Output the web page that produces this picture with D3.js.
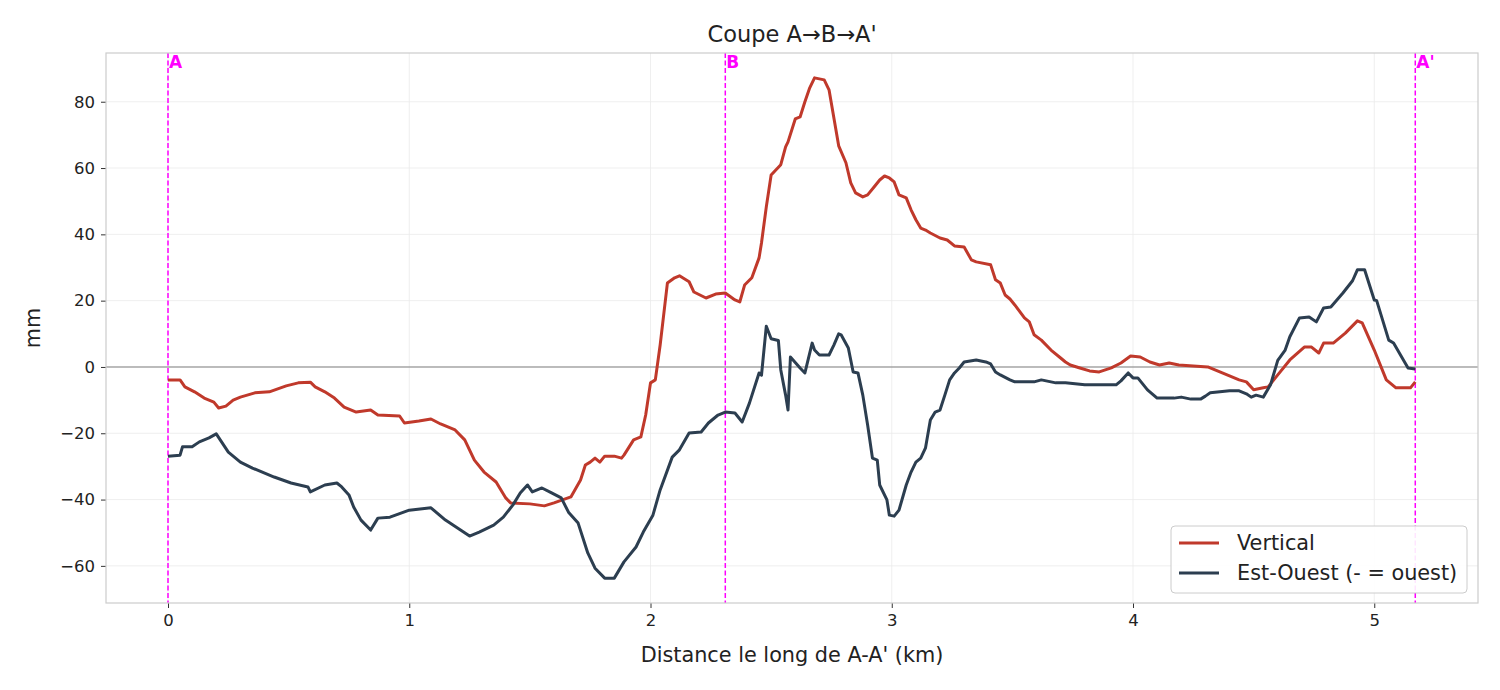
<!DOCTYPE html>
<html>
<head>
<meta charset="utf-8">
<script src="https://cdn.jsdelivr.net/npm/d3@7"></script>
<style>
  body { margin: 0; background: #fff; }
  svg { display: block; font-family: "DejaVu Sans", sans-serif; }
</style>
</head>
<body>
<svg id="chart" width="1500" height="690"></svg>
<script>
// distance (km) / value (mm)
const verticalKm = [0,0.05,0.07,0.11,0.15,0.19,0.21,0.24,0.27,0.30,0.36,0.42,0.49,0.54,0.59,0.61,0.65,0.69,0.73,0.78,0.84,0.87,0.96,0.98,1.04,1.09,1.13,1.19,1.23,1.27,1.31,1.36,1.40,1.42,1.50,1.56,1.60,1.67,1.71,1.73,1.75,1.77,1.79,1.81,1.85,1.88,1.89,1.93,1.96,1.98,2.00,2.02,2.04,2.07,2.10,2.12,2.16,2.18,2.23,2.27,2.31,2.35,2.37,2.39,2.42,2.45,2.46,2.48,2.50,2.54,2.56,2.57,2.60,2.62,2.64,2.66,2.68,2.72,2.74,2.78,2.81,2.83,2.85,2.88,2.90,2.93,2.95,2.97,2.99,3.01,3.03,3.06,3.08,3.10,3.12,3.14,3.16,3.20,3.23,3.26,3.30,3.33,3.35,3.41,3.43,3.45,3.47,3.49,3.51,3.55,3.57,3.59,3.62,3.66,3.70,3.72,3.74,3.78,3.82,3.86,3.91,3.95,3.99,4.03,4.07,4.11,4.15,4.19,4.31,4.37,4.44,4.47,4.50,4.54,4.56,4.60,4.65,4.71,4.74,4.77,4.79,4.83,4.88,4.93,4.95,5.00,5.05,5.09,5.15,5.17];
const verticalMm = [-3.9,-3.9,-6.0,-7.5,-9.4,-10.6,-12.4,-11.8,-10.0,-9.1,-7.8,-7.5,-5.7,-4.8,-4.6,-6.0,-7.5,-9.4,-12.1,-13.6,-13.0,-14.5,-14.8,-16.9,-16.3,-15.7,-17.2,-19.0,-22.0,-28.1,-31.7,-34.7,-39.5,-41.0,-41.3,-41.9,-41.0,-39.2,-34.1,-29.6,-28.7,-27.5,-28.7,-26.9,-26.9,-27.5,-26.6,-22.0,-21.1,-14.5,-4.8,-3.9,6.6,25.3,26.9,27.5,25.7,22.6,20.8,22.0,22.3,20.2,19.6,24.7,26.9,32.9,37.4,48.3,57.9,61.0,66.4,67.9,74.8,75.4,80.0,84.2,87.2,86.6,83.6,66.7,61.6,55.5,52.5,51.3,51.9,54.6,56.4,57.6,57.0,55.8,51.9,51.0,47.4,44.4,41.9,41.3,40.4,38.9,38.3,36.5,36.2,32.3,31.7,30.8,26.3,25.3,21.7,20.5,18.7,14.8,13.6,9.7,8.1,5.1,2.7,1.5,0.6,-0.3,-1.2,-1.5,-0.3,1.2,3.3,3.0,1.5,0.6,1.2,0.6,0,-1.8,-3.9,-4.5,-6.9,-6.3,-6.0,-2.4,2.1,6.0,6.0,4.2,7.2,7.2,10.2,13.9,13.3,5.1,-3.9,-6.3,-6.3,-4.5];

const eastWestKm = [0,0.05,0.06,0.10,0.13,0.17,0.20,0.25,0.30,0.35,0.44,0.51,0.58,0.59,0.65,0.70,0.72,0.75,0.77,0.80,0.84,0.87,0.92,1.00,1.09,1.15,1.20,1.25,1.29,1.35,1.39,1.43,1.46,1.49,1.51,1.55,1.59,1.63,1.66,1.70,1.74,1.77,1.81,1.85,1.89,1.94,1.97,2.01,2.04,2.09,2.12,2.16,2.21,2.24,2.28,2.31,2.35,2.38,2.41,2.45,2.46,2.48,2.50,2.53,2.54,2.56,2.57,2.58,2.62,2.64,2.67,2.68,2.70,2.74,2.76,2.78,2.79,2.82,2.84,2.86,2.88,2.90,2.92,2.94,2.95,2.98,2.99,3.01,3.03,3.06,3.08,3.10,3.12,3.14,3.16,3.18,3.20,3.22,3.24,3.26,3.28,3.30,3.35,3.39,3.41,3.43,3.45,3.49,3.51,3.59,3.62,3.68,3.72,3.80,3.93,3.95,3.98,4.00,4.02,4.04,4.06,4.10,4.17,4.20,4.24,4.28,4.30,4.32,4.40,4.44,4.47,4.49,4.51,4.54,4.57,4.60,4.63,4.65,4.69,4.73,4.76,4.79,4.82,4.87,4.91,4.93,4.96,5.00,5.01,5.06,5.08,5.14,5.17];
const eastWestMm = [-26.9,-26.6,-24.1,-24.1,-22.6,-21.4,-20.2,-25.7,-28.7,-30.5,-33.2,-35.0,-36.2,-37.7,-35.6,-35.0,-36.2,-38.6,-42.3,-46.2,-49.2,-45.6,-45.3,-43.2,-42.5,-46.2,-48.6,-51.0,-49.8,-47.7,-45.3,-41.6,-38.0,-35.6,-37.7,-36.5,-38.0,-39.5,-43.8,-47.1,-56.1,-60.7,-63.7,-63.7,-58.8,-54.3,-49.8,-44.7,-37.1,-27.2,-25.0,-19.9,-19.6,-16.9,-14.5,-13.6,-13.9,-16.6,-10.9,-1.8,-2.5,12.3,8.5,8.0,-0.9,-8.5,-13.0,3.0,-0.3,-1.8,7.2,5.1,3.6,3.6,6.6,10.0,9.7,5.7,-1.5,-1.8,-8.5,-17.5,-27.5,-28.1,-35.6,-40.1,-44.7,-45.0,-43.2,-35.6,-31.7,-28.7,-27.5,-24.4,-16.0,-13.6,-13.0,-8.5,-3.9,-1.8,-0.3,1.5,2.1,1.5,0.9,-1.5,-2.4,-3.9,-4.5,-4.5,-3.9,-4.8,-4.8,-5.4,-5.4,-4.2,-1.8,-3.3,-3.3,-5.1,-6.9,-9.4,-9.4,-9.1,-9.7,-9.7,-8.8,-7.8,-7.2,-7.2,-8.1,-9.1,-8.5,-9.1,-5.4,2.0,5.0,9.1,14.8,15.1,13.6,17.8,18.1,22.3,26.0,29.3,29.3,20.2,20.0,8.1,7.2,-0.3,-0.6];

const markerKm = [0, 2.31, 5.17];
const markerLabels = ["A", "B", "A'"];
const xTicks = [0, 1, 2, 3, 4, 5];
const yTicks = [-60, -40, -20, 0, 20, 40, 60, 80];

const seriesNames = ["Vertical", "Est-Ouest (- = ouest)"];
const seriesColors = ["#c0392b", "#2c3e50"];

const margin = {top: 53, right: 22, bottom: 87, left: 106};
const W = 1500, H = 690;
const iw = W - margin.left - margin.right, ih = H - margin.top - margin.bottom;

const svg = d3.select("#chart");
const g = svg.append("g").attr("transform", `translate(${margin.left},${margin.top})`);

const x = d3.scaleLinear().domain([-0.257, 5.43]).range([0, iw]);
const y = d3.scaleLinear().domain([-71.2, 94.7]).range([ih, 0]);

// grid
g.append("g").selectAll("line").data(xTicks).join("line")
  .attr("x1", d => x(d)).attr("x2", d => x(d)).attr("y1", 0).attr("y2", ih)
  .attr("stroke", "#ebebeb").attr("stroke-width", 0.8);
g.append("g").selectAll("line").data(yTicks).join("line")
  .attr("x1", 0).attr("x2", iw).attr("y1", d => y(d)).attr("y2", d => y(d))
  .attr("stroke", "#ebebeb").attr("stroke-width", 0.8);

// zero line
g.append("line").attr("x1", 0).attr("x2", iw).attr("y1", y(0)).attr("y2", y(0))
  .attr("stroke", "#808080").attr("stroke-width", 1.1);

// section markers
markerKm.forEach((k, i) => {
  g.append("line").attr("x1", x(k)).attr("x2", x(k)).attr("y1", 0).attr("y2", ih)
    .attr("stroke", "#ff00ff").attr("stroke-width", 1.5).attr("stroke-dasharray", "5,2.5");
  g.append("text").attr("x", x(k) + 1).attr("y", 15)
    .attr("fill", "#ff00ff").attr("font-weight", "bold").attr("font-size", 17)
    .text(markerLabels[i]);
});

const line = d3.line().x(d => x(d[0])).y(d => y(d[1]));
const series = [d3.zip(verticalKm, verticalMm), d3.zip(eastWestKm, eastWestMm)];
series.forEach((s, i) => {
  g.append("path").datum(s).attr("d", line).attr("fill", "none")
    .attr("stroke", seriesColors[i]).attr("stroke-width", 3).attr("stroke-linejoin", "round");
});

// axes
const xAxis = g.append("g").attr("transform", `translate(0,${ih})`)
  .call(d3.axisBottom(x).tickValues(xTicks).tickSize(5).tickPadding(6).tickFormat(d3.format("d")));
const yAxis = g.append("g")
  .call(d3.axisLeft(y).tickValues(yTicks).tickSize(5).tickPadding(6)
    .tickFormat(d => d < 0 ? "\u2212" + Math.abs(d) : d));
[xAxis, yAxis].forEach(a => {
  a.select(".domain").remove();
  a.selectAll("text").attr("font-size", 16.5).attr("fill", "#222").attr("font-family", "DejaVu Sans");
  a.selectAll("line").attr("stroke", "#333");
});

g.append("rect").attr("width", iw).attr("height", ih).attr("fill", "none")
  .attr("stroke", "#cccccc").attr("stroke-width", 1.2);

// labels
svg.append("text").attr("x", margin.left + iw / 2).attr("y", 42).attr("text-anchor", "middle")
  .attr("font-size", 22.5).attr("fill", "#222").text("Coupe A\u2192B\u2192A'");
svg.append("text").attr("x", margin.left + iw / 2).attr("y", 662).attr("text-anchor", "middle")
  .attr("font-size", 20.8).attr("fill", "#222").text("Distance le long de A-A' (km)");
svg.append("text").attr("transform", `translate(40,${margin.top + ih / 2}) rotate(-90)`)
  .attr("text-anchor", "middle").attr("font-size", 20.8).attr("fill", "#222").text("mm");

// legend
const lg = g.append("g").attr("transform", `translate(${iw - 307},${ih - 77})`);
lg.append("rect").attr("width", 296).attr("height", 67).attr("rx", 4)
  .attr("fill", "#fff").attr("fill-opacity", 0.9).attr("stroke", "#cccccc");
seriesNames.forEach((n, i) => {
  const yy = 17 + i * 30;
  lg.append("line").attr("x1", 8).attr("x2", 48).attr("y1", yy).attr("y2", yy)
    .attr("stroke", seriesColors[i]).attr("stroke-width", 3);
  lg.append("text").attr("x", 66).attr("y", yy + 7).attr("font-size", 20.8).attr("fill", "#222").text(n);
});
</script>
</body>
</html>
